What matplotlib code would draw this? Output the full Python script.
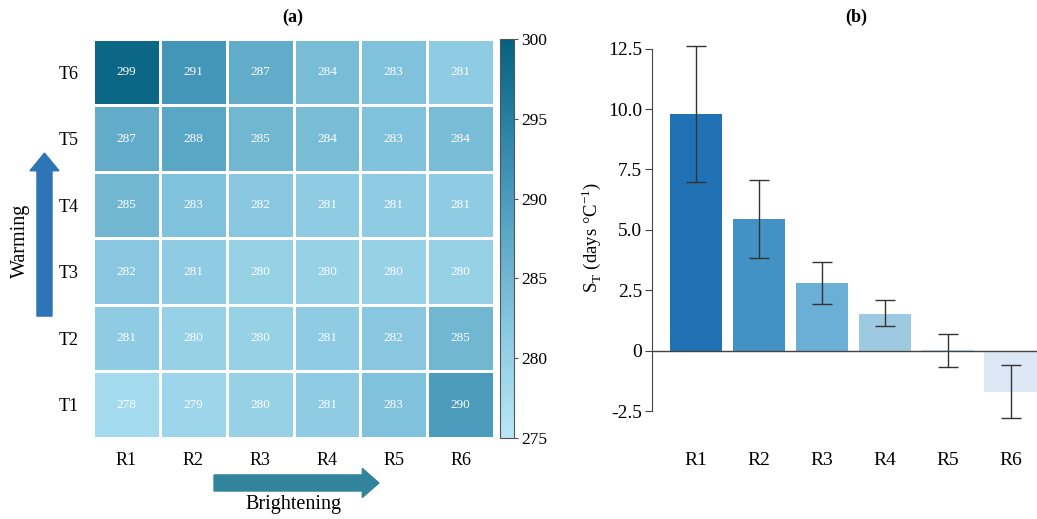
import numpy as np
import matplotlib
matplotlib.use("Agg")
import matplotlib.pyplot as plt
from matplotlib.colors import LinearSegmentedColormap
from matplotlib.patches import FancyArrow

plt.rcParams['font.family'] = ['Liberation Serif', 'DejaVu Serif']
plt.rcParams['mathtext.fontset'] = 'custom'
plt.rcParams['mathtext.rm'] = 'Liberation Serif'

# heatmap data (rows T1..T6, cols R1..R6)
rows = ['T1', 'T2', 'T3', 'T4', 'T5', 'T6']
cols = ['R1', 'R2', 'R3', 'R4', 'R5', 'R6']
grid = np.array([
    [278, 279, 280, 281, 283, 290],
    [281, 280, 280, 281, 282, 285],
    [282, 281, 280, 280, 280, 280],
    [285, 283, 282, 281, 281, 281],
    [287, 288, 285, 284, 283, 284],
    [299, 291, 287, 284, 283, 281],
])

# bar data
regions = ['R1', 'R2', 'R3', 'R4', 'R5', 'R6']
st_mean = [9.8, 5.45, 2.82, 1.53, 0.03, -1.68]
st_low = [7.0, 3.83, 1.94, 1.02, -0.66, -2.78]
st_high = [12.6, 7.08, 3.68, 2.09, 0.71, -0.58]
bar_colors = ['#2171b5', '#4292c6', '#6baed6', '#9ecae1', '#c6dbef', '#dce8f5']

fig = plt.figure(figsize=(10.37, 5.19), dpi=100)

# ---- (a) heatmap
ax1 = fig.add_axes([0.0897, 0.1561, 0.3867, 0.7688])
cmap = LinearSegmentedColormap.from_list(
    'tb', ['#b8e7f7', '#8dcbe2', '#5ea9c8', '#2f87ab', '#05617f'])
mesh = ax1.pcolormesh(grid, cmap=cmap, vmin=275, vmax=300,
                      edgecolors='white', linewidth=0.8)
for i in range(len(rows)):
    for j in range(len(cols)):
        ax1.text(j + 0.5, i + 0.5, str(grid[i, j]), ha='center', va='center',
                 color='white', fontsize=9.5)
ax1.set_xticks(np.arange(len(cols)) + 0.5)
ax1.set_xticklabels(cols, fontsize=13)
ax1.set_yticks(np.arange(len(rows)) + 0.5)
ax1.set_yticklabels(rows, fontsize=13)
ax1.tick_params(length=0, pad=10)
for s in ax1.spines.values():
    s.set_visible(False)

cax = fig.add_axes([0.4822, 0.1561, 0.0135, 0.7688])
cb = fig.colorbar(mesh, cax=cax, ticks=[275, 280, 285, 290, 295, 300])
cb.outline.set_edgecolor('#555555')
cb.outline.set_linewidth(0.8)
cax.tick_params(labelsize=12.5, length=3, width=0.8, color='#555555', pad=2)

fig.text(0.2826, 0.967, '(a)', ha='center', va='center', fontsize=13, fontweight='bold')

# arrows
fig.add_artist(FancyArrow(0.0429, 0.391, 0, 0.314, width=0.0145, head_width=0.028,
                          head_length=0.034, length_includes_head=True,
                          color='#2e75b6', transform=fig.transFigure))
fig.text(0.020, 0.535, 'Warming', rotation=90, ha='center', va='center', fontsize=14.5)
fig.add_artist(FancyArrow(0.2064, 0.0694, 0.159, 0, width=0.031, head_width=0.056,
                          head_length=0.016, length_includes_head=True,
                          color='#31849b', transform=fig.transFigure))
fig.text(0.2826, 0.027, 'Brightening', ha='center', va='center', fontsize=14.5)

# ---- (b) bars
ax2 = fig.add_axes([0.6287, 0.1561, 0.3713, 0.7746])
x = np.arange(len(regions))
yerr = [np.array(st_mean) - np.array(st_low), np.array(st_high) - np.array(st_mean)]
ax2.bar(x, st_mean, width=0.83, color=bar_colors)
ax2.errorbar(x, st_mean, yerr=yerr, fmt='none', ecolor='#333333', elinewidth=1,
             capsize=7, capthick=1, clip_on=False)
ax2.axhline(0, color='#444444', lw=1)
ax2.set_xlim(-0.70, 5.42)
ax2.set_ylim(-3.6, 13.02)
ax2.set_yticks([-2.5, 0, 2.5, 5.0, 7.5, 10.0, 12.5])
ax2.set_yticklabels(['-2.5', '0', '2.5', '5.0', '7.5', '10.0', '12.5'])
ax2.spines['left'].set_bounds(-2.5, 12.5)
ax2.spines['left'].set_color('#444444')
for s in ['top', 'right', 'bottom']:
    ax2.spines[s].set_visible(False)
ax2.set_xticks(x)
ax2.set_xticklabels(regions)
ax2.tick_params(axis='x', length=0, pad=10, labelsize=14)
ax2.tick_params(axis='y', length=5, width=0.8, color='#444444', labelsize=14, pad=2)
ax2.set_ylabel(r'S$_{\mathrm{T}}$ (days $\degree$C$^{-1}$)', fontsize=13.5, labelpad=4)

fig.text(0.826, 0.967, '(b)', ha='center', va='center', fontsize=13, fontweight='bold')

fig.savefig('out.png', dpi=100)
